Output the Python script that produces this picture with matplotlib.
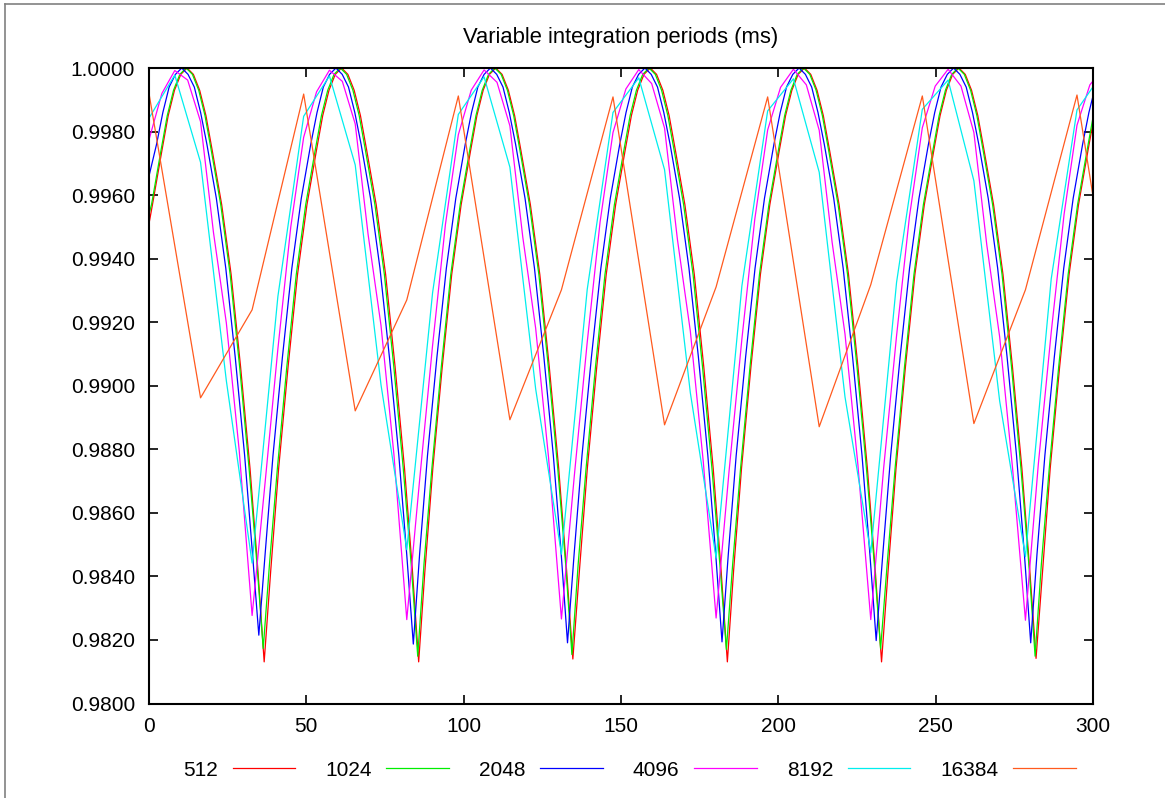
import numpy as np
import matplotlib
matplotlib.use('Agg')
import matplotlib.pyplot as plt
from matplotlib.lines import Line2D
from matplotlib.ticker import FormatStrFormatter

# integration periods in ms (legend labels)
periods = [512, 1024, 2048, 4096, 8192, 16384]
colors = ['#ff0000', '#00ee00', '#0000ff', '#ff00ff', '#00eeee', '#ff5a1e']

# 512 ms series (time s, value)
red_t = [0.0, 1.1, 4.1, 6.1, 8.1, 10.1, 12.1, 14.1, 16.1, 18.1, 20.1, 23.1, 26.1, 29.1, 32.1, 34.6, 36.6,
         38.7, 41.2, 44.2, 47.2, 50.2, 53.2, 55.2, 57.2, 59.2, 61.2, 63.2, 65.2, 67.2, 69.2, 72.2, 75.2, 78.2, 81.2, 83.7, 85.7,
         87.7, 90.2, 93.2, 96.2, 99.2, 102.2, 104.2, 106.2, 108.2, 110.2, 112.2, 114.2, 116.2, 118.2, 121.2, 124.2, 127.2, 130.2, 132.7, 134.7,
         136.8, 139.3, 142.3, 145.3, 148.3, 151.3, 153.3, 155.3, 157.3, 159.3, 161.3, 163.3, 165.3, 167.3, 170.3, 173.3, 176.3, 179.3, 181.8, 183.8,
         185.8, 188.3, 191.3, 194.3, 197.3, 200.3, 202.3, 204.3, 206.3, 208.3, 210.3, 212.3, 214.3, 216.3, 219.3, 222.3, 225.3, 228.3, 230.8, 232.8,
         234.9, 237.4, 240.4, 243.4, 246.4, 249.4, 251.4, 253.4, 255.4, 257.4, 259.4, 261.4, 263.4, 265.4, 268.4, 271.4, 274.4, 277.4, 279.9, 281.9,
         284.0, 286.4, 289.4, 292.4, 295.4, 298.4, 300.4, 302.4]
red_v = [0.9951, 0.9957, 0.9974, 0.9985, 0.9993, 0.9998, 1.0000, 0.9998, 0.9993, 0.9985, 0.9974, 0.9957, 0.9935, 0.9906, 0.9874, 0.9842, 0.98131,
         0.9842, 0.9874, 0.9906, 0.9935, 0.9957, 0.9974, 0.9985, 0.9993, 0.9998, 1.0000, 0.9998, 0.9993, 0.9985, 0.9974, 0.9957, 0.9935, 0.9906, 0.9874, 0.9842, 0.98131,
         0.9842, 0.9874, 0.9906, 0.9935, 0.9957, 0.9974, 0.9985, 0.9993, 0.9998, 1.0000, 0.9998, 0.9993, 0.9985, 0.9974, 0.9957, 0.9935, 0.9906, 0.9874, 0.9842, 0.98140,
         0.9842, 0.9874, 0.9906, 0.9935, 0.9957, 0.9974, 0.9985, 0.9993, 0.9998, 1.0000, 0.9998, 0.9993, 0.9985, 0.9974, 0.9957, 0.9935, 0.9906, 0.9874, 0.9842, 0.98131,
         0.9842, 0.9874, 0.9906, 0.9935, 0.9957, 0.9974, 0.9985, 0.9993, 0.9998, 1.0000, 0.9998, 0.9993, 0.9985, 0.9974, 0.9957, 0.9935, 0.9906, 0.9874, 0.9842, 0.98131,
         0.9842, 0.9874, 0.9906, 0.9935, 0.9957, 0.9974, 0.9985, 0.9993, 0.9998, 1.0000, 0.9998, 0.9993, 0.9985, 0.9974, 0.9957, 0.9935, 0.9906, 0.9874, 0.9842, 0.98142,
         0.9842, 0.9874, 0.9906, 0.9935, 0.9957, 0.9974, 0.9985, 0.9993]

# 1024 ms
green_t = [0.0, 0.8, 3.8, 5.8, 7.8, 9.8, 11.8, 13.8, 15.8, 17.8, 19.8, 22.8, 25.8, 28.8, 31.8, 34.3, 36.3,
           38.3, 40.8, 43.8, 46.8, 49.8, 52.8, 54.8, 56.8, 58.8, 60.8, 62.8, 64.8, 66.8, 68.8, 71.8, 74.8, 77.8, 80.8, 83.3, 85.4,
           87.4, 89.9, 92.9, 95.9, 98.9, 101.9, 103.9, 105.9, 107.9, 109.9, 111.9, 113.9, 115.9, 117.9, 120.9, 123.9, 126.9, 129.9, 132.4, 134.4,
           136.4, 138.9, 141.9, 144.9, 147.9, 150.9, 152.9, 154.9, 156.9, 158.9, 160.9, 162.9, 164.9, 166.9, 169.9, 172.9, 175.9, 178.9, 181.4, 183.5,
           185.5, 188.0, 191.0, 194.0, 197.0, 200.0, 202.0, 204.0, 206.0, 208.0, 210.0, 212.0, 214.0, 216.0, 219.0, 222.0, 225.0, 228.0, 230.5, 232.5,
           234.6, 237.1, 240.1, 243.1, 246.1, 249.1, 251.1, 253.1, 255.1, 257.1, 259.1, 261.1, 263.1, 265.1, 268.1, 271.1, 274.1, 277.1, 279.6, 281.6,
           283.6, 286.1, 289.1, 292.1, 295.1, 298.1, 300.1, 302.1]
green_v = [0.9954, 0.9957, 0.9974, 0.9985, 0.9993, 0.9998, 1.0000, 0.9998, 0.9993, 0.9985, 0.9974, 0.9957, 0.9935, 0.9906, 0.9874, 0.9844, 0.98173,
           0.9844, 0.9874, 0.9906, 0.9935, 0.9957, 0.9974, 0.9985, 0.9993, 0.9998, 1.0000, 0.9998, 0.9993, 0.9985, 0.9974, 0.9957, 0.9935, 0.9906, 0.9874, 0.9844, 0.98149,
           0.9844, 0.9874, 0.9906, 0.9935, 0.9957, 0.9974, 0.9985, 0.9993, 0.9998, 1.0000, 0.9998, 0.9993, 0.9985, 0.9974, 0.9957, 0.9935, 0.9906, 0.9874, 0.9844, 0.98154,
           0.9844, 0.9874, 0.9906, 0.9935, 0.9957, 0.9974, 0.9985, 0.9993, 0.9998, 1.0000, 0.9998, 0.9993, 0.9985, 0.9974, 0.9957, 0.9935, 0.9906, 0.9874, 0.9844, 0.98170,
           0.9844, 0.9874, 0.9906, 0.9935, 0.9957, 0.9974, 0.9985, 0.9993, 0.9998, 1.0000, 0.9998, 0.9993, 0.9985, 0.9974, 0.9957, 0.9935, 0.9906, 0.9874, 0.9844, 0.98172,
           0.9844, 0.9874, 0.9906, 0.9935, 0.9957, 0.9974, 0.9985, 0.9993, 0.9998, 1.0000, 0.9998, 0.9993, 0.9985, 0.9974, 0.9957, 0.9935, 0.9906, 0.9874, 0.9844, 0.98149,
           0.9844, 0.9874, 0.9906, 0.9935, 0.9957, 0.9974, 0.9985, 0.9993]

# 2048 ms
blue_t = [0.0, 2.4, 4.4, 6.4, 8.4, 10.4, 12.4, 14.4, 16.4, 18.4, 21.4, 24.4, 27.4, 30.4, 32.9, 34.9,
          36.9, 39.4, 42.4, 45.4, 48.4, 51.4, 53.4, 55.4, 57.4, 59.4, 61.4, 63.4, 65.4, 67.4, 70.4, 73.4, 76.4, 79.4, 81.9, 84.0,
          86.0, 88.5, 91.5, 94.5, 97.5, 100.5, 102.5, 104.5, 106.5, 108.5, 110.5, 112.5, 114.5, 116.5, 119.5, 122.5, 125.5, 128.5, 131.0, 133.0,
          135.1, 137.6, 140.6, 143.6, 146.6, 149.6, 151.6, 153.6, 155.6, 157.6, 159.6, 161.6, 163.6, 165.6, 168.6, 171.6, 174.6, 177.6, 180.1, 182.1,
          184.1, 186.6, 189.6, 192.6, 195.6, 198.6, 200.6, 202.6, 204.6, 206.6, 208.6, 210.6, 212.6, 214.6, 217.6, 220.6, 223.6, 226.6, 229.1, 231.1,
          233.2, 235.7, 238.7, 241.7, 244.7, 247.7, 249.7, 251.7, 253.7, 255.7, 257.7, 259.7, 261.7, 263.7, 266.7, 269.7, 272.7, 275.7, 278.2, 280.2,
          282.2, 284.7, 287.7, 290.7, 293.7, 296.7, 298.7, 300.7, 302.7]
blue_v = [0.9966, 0.9976, 0.9986, 0.9994, 0.9998, 1.0000, 0.9998, 0.9994, 0.9986, 0.9976, 0.9959, 0.9937, 0.9909, 0.9878, 0.9847, 0.98215,
          0.9847, 0.9878, 0.9909, 0.9937, 0.9959, 0.9976, 0.9986, 0.9994, 0.9998, 1.0000, 0.9998, 0.9994, 0.9986, 0.9976, 0.9959, 0.9937, 0.9909, 0.9878, 0.9847, 0.98187,
          0.9847, 0.9878, 0.9909, 0.9937, 0.9959, 0.9976, 0.9986, 0.9994, 0.9998, 1.0000, 0.9998, 0.9994, 0.9986, 0.9976, 0.9959, 0.9937, 0.9909, 0.9878, 0.9847, 0.98191,
          0.9847, 0.9878, 0.9909, 0.9937, 0.9959, 0.9976, 0.9986, 0.9994, 0.9998, 1.0000, 0.9998, 0.9994, 0.9986, 0.9976, 0.9959, 0.9937, 0.9909, 0.9878, 0.9847, 0.98194,
          0.9847, 0.9878, 0.9909, 0.9937, 0.9959, 0.9976, 0.9986, 0.9994, 0.9998, 1.0000, 0.9998, 0.9994, 0.9986, 0.9976, 0.9959, 0.9937, 0.9909, 0.9878, 0.9847, 0.98198,
          0.9847, 0.9878, 0.9909, 0.9937, 0.9959, 0.9976, 0.9986, 0.9994, 0.9998, 1.0000, 0.9998, 0.9994, 0.9986, 0.9976, 0.9959, 0.9937, 0.9909, 0.9878, 0.9847, 0.98191,
          0.9847, 0.9878, 0.9909, 0.9937, 0.9959, 0.9976, 0.9986, 0.9994, 0.9998]

# 4096 ms, one value per integration period
magenta_v = [0.99774, 0.99920, 0.99992, 0.99962, 0.99831, 0.99483, 0.99198, 0.98796, 0.98277, 0.98692, 0.99116, 0.99500,
             0.99782, 0.99925, 0.99993, 0.99958, 0.99824, 0.99476, 0.99190, 0.98785, 0.98264, 0.98705, 0.99126, 0.99508,
             0.99790, 0.99930, 0.99994, 0.99955, 0.99818, 0.99468, 0.99181, 0.98774, 0.98266, 0.98717, 0.99137, 0.99516,
             0.99797, 0.99934, 0.99995, 0.99951, 0.99811, 0.99460, 0.99172, 0.98763, 0.98269, 0.98729, 0.99147, 0.99524,
             0.99805, 0.99939, 0.99996, 0.99947, 0.99804, 0.99452, 0.99163, 0.98752, 0.98264, 0.98741, 0.99157, 0.99532,
             0.99812, 0.99943, 0.99996, 0.99943, 0.99797, 0.99444, 0.99154, 0.98741, 0.98262, 0.98753, 0.99168, 0.99540,
             0.99820, 0.99947, 0.99997]

# 8192 ms
cyan_v = [0.99842, 0.99978, 0.99703, 0.99016, 0.98442, 0.99281,
          0.99848, 0.99975, 0.99695, 0.99003, 0.98484, 0.99292,
          0.99854, 0.99972, 0.99688, 0.98990, 0.98470, 0.99303,
          0.99860, 0.99969, 0.99680, 0.98978, 0.98458, 0.99314,
          0.99865, 0.99966, 0.99672, 0.98965, 0.98475, 0.99325,
          0.99870, 0.99962, 0.99645, 0.98952, 0.98462, 0.99336,
          0.99868, 0.99985]

# 16384 ms
orange_v = [0.99920, 0.98962, 0.99239, 0.99918, 0.98921, 0.99270, 0.99912, 0.98893, 0.99302, 0.99909,
            0.98877, 0.99311, 0.99909, 0.98871, 0.99318, 0.99912, 0.98881, 0.99302, 0.99915, 0.98890]

plt.rcParams['font.family'] = ['Liberation Sans', 'DejaVu Sans']
fs = 15

W, H = 1165, 798
fig = plt.figure(figsize=(W / 100, H / 100), dpi=100)
ax = fig.add_axes([149 / W, 1 - 703.5 / H, (1093 - 149) / W, (703.5 - 68) / H])

series = [(red_t, red_v), (green_t, green_v), (blue_t, blue_v)]
for (t, v), p, c in zip(series, periods[:3], colors[:3]):
    ax.plot(t, v, color=c, lw=0.9, label=str(p))
for v, p, c in zip([magenta_v, cyan_v, orange_v], periods[3:], colors[3:]):
    t = np.arange(len(v)) * p / 1000.0   # one sample per integration period
    ax.plot(t, v, color=c, lw=0.9, label=str(p))

ax.set_xlim(0, 300)
ax.set_ylim(0.98, 1.0)
ax.set_xticks([0, 50, 100, 150, 200, 250, 300])
ax.set_yticks([0.980, 0.982, 0.984, 0.986, 0.988, 0.990, 0.992, 0.994, 0.996, 0.998, 1.000])
ax.yaxis.set_major_formatter(FormatStrFormatter('%.4f'))
ax.tick_params(direction='in', length=6.5, width=1.2, top=True, right=True,
               labelsize=fs, pad=10)
for s in ax.spines.values():
    s.set_linewidth(1.5)

ax.text(0.5, 1 + 31 / 635.5, 'Variable integration periods (ms)', transform=ax.transAxes,
        ha='center', va='center', fontsize=15.8)

ax.legend(loc='center', bbox_to_anchor=(0.509, -0.105), ncol=6, frameon=False,
          markerfirst=False, handlelength=3.0, handletextpad=0.7, columnspacing=1.45,
          fontsize=fs)

# thin outer frame (top and left edges of the canvas)
fig.add_artist(Line2D([5 / W, 5 / W], [0, 1 - 4 / H], transform=fig.transFigure, color='#808080', lw=1.2))
fig.add_artist(Line2D([5 / W, 1], [1 - 4 / H, 1 - 4 / H], transform=fig.transFigure, color='#808080', lw=1.2))

fig.savefig('out.png', dpi=100)
